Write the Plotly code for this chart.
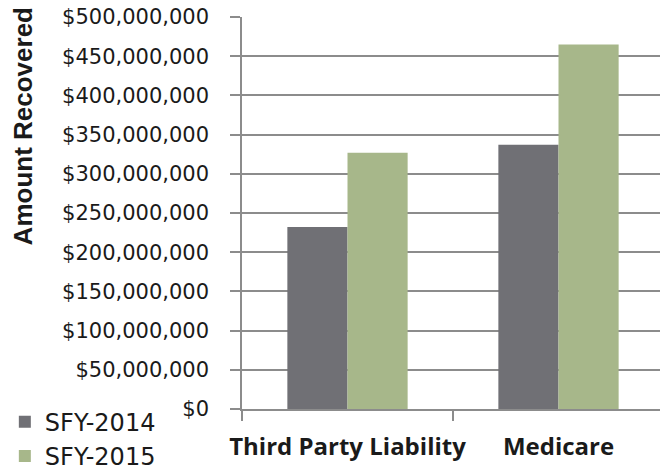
import plotly.graph_objects as go


# data
categories = ["Third Party Liability", "Medicare"]
sfy_2014 = [232000000, 337000000]
sfy_2015 = [327000000, 465000000]
series_names = ["SFY-2014", "SFY-2015"]

GRAY = "#707075"
GREEN = "#A7B78A"
GRID = "#8C8C8C"
TEXT = "#1A1A1A"

fig = go.Figure()

fig.add_trace(
    go.Bar(
        x=categories,
        y=sfy_2014,
        name=series_names[0],
        marker=dict(color=GRAY, line_width=0),
    )
)

fig.add_trace(
    go.Bar(
        x=categories,
        y=sfy_2015,
        name=series_names[1],
        marker=dict(color=GREEN, line_width=0),
    )
)

# page body has an 8px margin, so the figure is sized to fit inside the window
fig.update_layout(
    width=660,
    height=461,
    barmode="group",
    bargap=0.43,
    bargroupgap=0,
    paper_bgcolor="white",
    plot_bgcolor="white",
    font=dict(family="DejaVu Sans", color=TEXT, size=20),
    margin=dict(l=234, r=4, t=9, b=60, autoexpand=False),
    showlegend=True,
    legend=dict(
        x=-0.562,
        y=0.024,
        xanchor="left",
        yanchor="top",
        font=dict(size=24, color=TEXT),
        bgcolor="rgba(0,0,0,0)",
        itemsizing="constant",
        tracegroupgap=0,
    ),
    annotations=[
        dict(
            text="<b>Amount Recovered</b>",
            textangle=-90,
            xref="paper",
            yref="paper",
            x=-0.518,
            y=0.722,
            xanchor="center",
            yanchor="middle",
            showarrow=False,
            font=dict(family="Liberation Sans", size=26, color=TEXT),
        )
    ],
)

fig.update_xaxes(
    showline=True,
    linecolor=GRID,
    linewidth=1.5,
    ticks="outside",
    tickson="boundaries",
    ticklen=10,
    tickcolor=GRID,
    tickwidth=1.5,
    tickangle=0,
    tickfont=dict(size=24, family="Open Sans", weight="bold", color=TEXT),
    ticklabelstandoff=15,
    showgrid=False,
)

fig.update_yaxes(
    range=[0, 500000000],
    dtick=50000000,
    tickprefix="$",
    tickformat=",d",
    showline=True,
    linecolor=GRID,
    linewidth=1.5,
    ticks="outside",
    ticklen=10,
    tickcolor=GRID,
    tickwidth=1.5,
    ticklabelstandoff=17,
    ticklabeloverflow="allow",
    showgrid=True,
    gridcolor=GRID,
    gridwidth=1.5,
    zeroline=False,
    tickfont=dict(size=21, color=TEXT),
)

fig.write_html("out.html")
